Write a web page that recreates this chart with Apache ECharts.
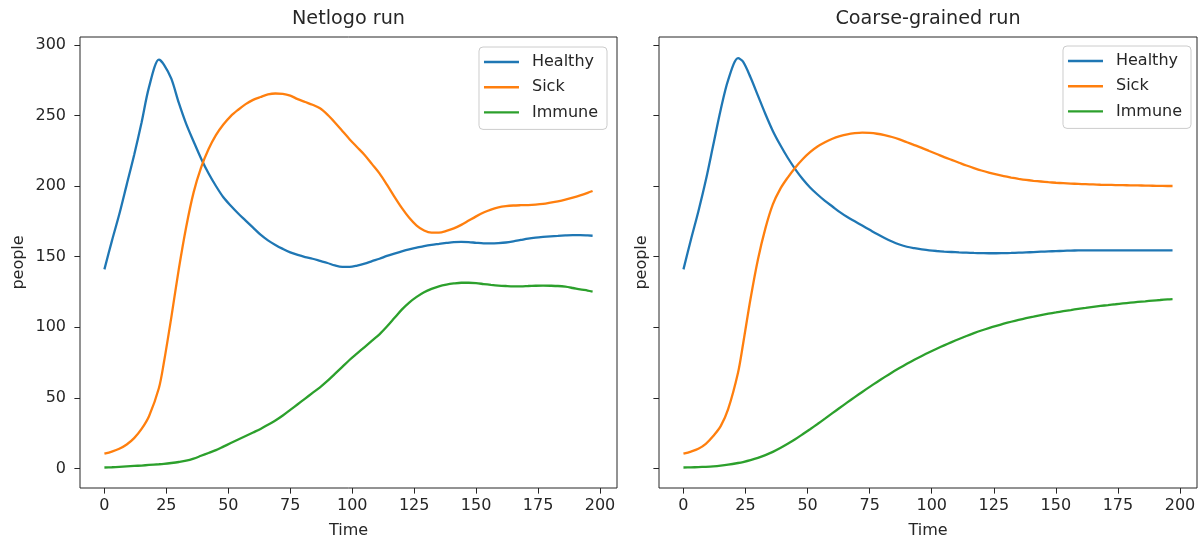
<!DOCTYPE html>
<html>
<head>
<meta charset="utf-8">
<script src="https://cdn.jsdelivr.net/npm/echarts@6/dist/echarts.min.js"></script>
<style>
  html, body { margin: 0; padding: 0; background: #ffffff; }
  #chart { width: 1201px; height: 544px; }
</style>
</head>
<body>
<div id="chart"></div>
<script>
// Simulation time steps
const time = [0, 3, 6, 9, 12, 15, 18, 22, 24, 27, 30, 33, 36, 39, 42, 45, 48, 51, 54, 57,
  60, 63, 66, 69, 72, 75, 78, 81, 84, 87, 90, 93, 96, 99, 102, 105, 108, 111, 114, 117,
  120, 123, 126, 129, 132, 135, 138, 141, 144, 147, 150, 153, 156, 159, 162, 165, 168, 171, 174, 177,
  180, 183, 186, 189, 192, 195, 197];

// Netlogo run
const netlogoHealthy = [141, 161, 180, 201, 222, 245, 270, 289.5, 286, 276, 259, 244, 231.5, 219.5, 209, 200, 192, 186, 180.5, 175.5,
  170.5, 165.5, 161.5, 158.3, 155.5, 153, 151.2, 149.7, 148.5, 147, 145.5, 143.8, 142.8, 142.8, 143.7, 145, 146.8, 148.5, 150.5, 152.2,
  153.8, 155.2, 156.3, 157.4, 158.3, 159, 159.7, 160.3, 160.5, 160.3, 159.8, 159.4, 159.4, 159.6, 160, 160.8, 161.8, 162.8, 163.5, 164,
  164.4, 164.7, 165, 165.2, 165.2, 165, 164.8];
const netlogoSick = [10.5, 12, 14, 17, 21.5, 28, 37, 57, 75, 107, 141, 171, 195.5, 213, 226, 236, 243.5, 249.5, 254, 258,
  261, 263, 264.8, 265.5, 265.3, 264, 261.5, 259.5, 257.5, 255, 250.5, 245, 239, 233, 227.5, 222, 215.5, 209, 201, 192.5,
  184.5, 177.5, 172, 168.5, 167, 167, 168.2, 170, 172.5, 175.5, 178.5, 181.2, 183.3, 184.8, 185.7, 186.2, 186.4, 186.5, 186.8, 187.3,
  188.2, 189.2, 190.4, 191.8, 193.4, 195.2, 196.5];
const netlogoImmune = [0.7, 0.9, 1.2, 1.5, 1.8, 2.1, 2.5, 3.0, 3.3, 3.9, 4.6, 5.5, 7, 9, 11, 13, 15.5, 18, 20.5, 23,
  25.5, 28, 31, 34, 37.5, 41.5, 45.5, 49.5, 53.5, 57.5, 62, 67, 72, 77, 81.5, 86, 90.5, 95, 100.5, 106.5,
  112.5, 117.5, 121.5, 124.8, 127.2, 129, 130.2, 131, 131.5, 131.5, 131.2, 130.6, 130, 129.5, 129.2, 129, 129, 129.2, 129.4, 129.5,
  129.4, 129.2, 128.7, 127.8, 126.8, 126, 125.3];

// Coarse-grained run
const coarseHealthy = [141, 162, 182, 204, 229, 254, 275, 290.5, 288, 277, 264, 251, 239, 229, 220, 212, 205, 199, 194, 189.5,
  185.5, 181.5, 178, 175, 172, 169, 166, 163.2, 160.7, 158.6, 157, 156, 155.2, 154.5, 154, 153.6, 153.3, 153, 152.8, 152.6,
  152.5, 152.4, 152.4, 152.5, 152.6, 152.8, 153, 153.2, 153.5, 153.7, 153.9, 154.1, 154.3, 154.4, 154.5, 154.5, 154.5, 154.5, 154.5, 154.5,
  154.5, 154.5, 154.5, 154.5, 154.5, 154.5, 154.5];
const coarseSick = [10.5, 12, 14, 17.5, 23, 30, 42, 68, 88, 120, 148, 170, 187, 198, 206, 213, 219, 224, 228, 231,
  233.5, 235.3, 236.6, 237.4, 237.8, 237.6, 237, 236, 234.7, 233, 231, 229, 227, 224.8, 222.7, 220.5, 218.5, 216.5, 214.5, 212.7,
  211, 209.5, 208.2, 207, 206, 205.1, 204.3, 203.7, 203.2, 202.7, 202.3, 202, 201.7, 201.5, 201.3, 201.1, 200.9, 200.8, 200.7, 200.6,
  200.5, 200.4, 200.3, 200.2, 200.1, 200, 200];
const coarseImmune = [0.7, 0.8, 1, 1.2, 1.5, 2, 2.7, 3.9, 4.6, 5.9, 7.5, 9.5, 11.8, 14.5, 17.5, 20.7, 24.2, 27.8, 31.5, 35.3,
  39.2, 43, 46.8, 50.5, 54.2, 57.8, 61.3, 64.7, 68, 71.1, 74.1, 77, 79.7, 82.3, 84.8, 87.2, 89.5, 91.7, 93.8, 95.8,
  97.7, 99.4, 101, 102.5, 103.9, 105.2, 106.4, 107.5, 108.6, 109.6, 110.5, 111.4, 112.2, 113, 113.7, 114.4, 115.1, 115.7, 116.3, 116.9,
  117.4, 117.9, 118.4, 118.9, 119.3, 119.7, 119.9];

const seriesNames = ['Healthy', 'Sick', 'Immune'];
const panelTitles = ['Netlogo run', 'Coarse-grained run'];
const xTicks = [0, 25, 50, 75, 100, 125, 150, 175, 200];
const yTicks = [0, 50, 100, 150, 200, 250, 300];

const colors = ['#1f77b4', '#ff7f0e', '#2ca02c'];
const FONT = 'DejaVu Sans';
const INK = '#262626';
const panels = [
  { grid: { left: 80, top: 37, width: 537, height: 455 }, values: [netlogoHealthy, netlogoSick, netlogoImmune],
    showYLabels: true, yNameGap: 53, legendPos: { right: 594, top: 47 } },
  { grid: { left: 659, top: 37, width: 538, height: 455 }, values: [coarseHealthy, coarseSick, coarseImmune],
    showYLabels: false, yNameGap: 9, legendPos: { right: 10, top: 46 } }
];

const pairs = arr => time.map((t, i) => [t, arr[i]]);

const option = {
  backgroundColor: '#ffffff',
  animation: false,
  grid: panels.map(p => Object.assign({ show: true, borderColor: INK, borderWidth: 1, backgroundColor: 'transparent' }, p.grid)),
  xAxis: panels.map((p, i) => ({
    type: 'value', gridIndex: i, min: -9.85, max: 206.85,
    splitLine: { show: false },
    axisLine: { show: false, onZero: false },
    axisTick: { show: true, customValues: xTicks, length: 5.6, lineStyle: { color: INK, width: 1 } },
    axisLabel: { customValues: xTicks, margin: 10, color: INK, fontSize: 16, fontFamily: FONT },
    name: 'Time', nameLocation: 'middle', nameGap: 35,
    nameTextStyle: { color: INK, fontSize: 16, fontFamily: FONT }
  })),
  yAxis: panels.map((p, i) => ({
    type: 'value', gridIndex: i, min: -13.8, max: 305.5,
    splitLine: { show: false },
    axisLine: { show: false, onZero: false },
    axisTick: { show: true, customValues: yTicks, length: 5.6, lineStyle: { color: INK, width: 1 } },
    axisLabel: { show: p.showYLabels, customValues: yTicks, margin: 14, color: INK, fontSize: 16, fontFamily: FONT },
    name: 'people', nameLocation: 'middle', nameGap: p.yNameGap,
    nameTextStyle: { color: INK, fontSize: 16, fontFamily: FONT }
  })),
  legend: panels.map(p => Object.assign({
    data: seriesNames,
    orient: 'vertical',
    icon: 'rect',
    itemWidth: 35,
    itemHeight: 2.4,
    itemGap: 7.2,
    selectedMode: false,
    padding: [6, 9, 8, 5],
    backgroundColor: 'rgba(255,255,255,0.8)',
    borderColor: '#cccccc',
    borderWidth: 1,
    borderRadius: 4,
    textStyle: { color: INK, fontSize: 16, fontFamily: FONT, lineHeight: 18, padding: [0, 0, 0, 8] }
  }, p.legendPos)),
  graphic: panels.map((p, i) => ({
    type: 'text',
    x: p.grid.left + p.grid.width / 2,
    y: 19,
    style: { text: panelTitles[i], align: 'center', verticalAlign: 'middle', fontSize: 19.2, fontFamily: FONT, fill: INK }
  })),
  series: []
};

panels.forEach((p, i) => {
  p.values.forEach((vals, k) => {
    option.series.push({
      type: 'line',
      name: seriesNames[k],
      xAxisIndex: i,
      yAxisIndex: i,
      data: pairs(vals),
      symbol: 'none',
      smooth: 0.3,
      color: colors[k],
      lineStyle: { color: colors[k], width: 2.3 },
      z: 3
    });
  });
});

const chart = echarts.init(document.getElementById('chart'), null, { renderer: 'canvas' });
chart.setOption(option);
</script>
</body>
</html>
